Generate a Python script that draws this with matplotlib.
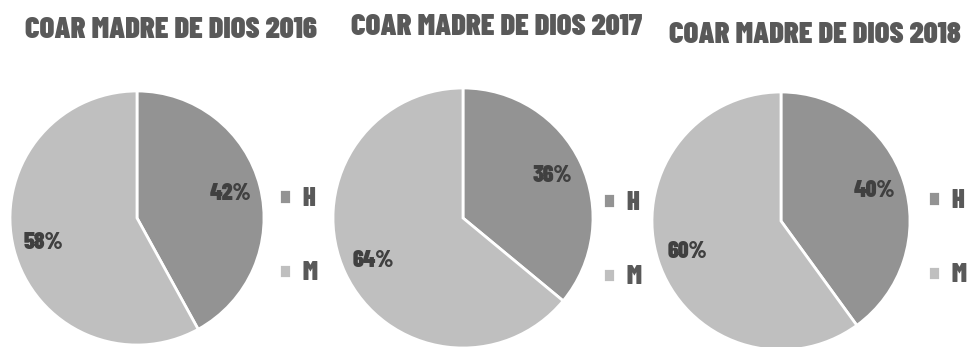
import matplotlib.pyplot as plt

# data
years = ["2016", "2017", "2018"]
labels = ["H", "M"]
pct_h = [42, 36, 40]
pct_m = [58, 64, 60]

colors = ["#939393", "#bfbfbf"]
title_color = "#595959"
label_color = "#404040"

W, H = 967, 347
fig = plt.figure(figsize=(W / 100, H / 100), dpi=100)

# pie centre / radius in pixels, title position, legend anchor
centers = [(137, 218, 127), (463, 218, 130), (781, 221, 129)]
title_pos = [(171, 30), (497, 27), (815, 35)]
legend_pos = [(279, 236), (603, 240), (928, 238)]

font = ["Barlow Condensed", "DejaVu Sans"]

for i, yr in enumerate(years):
    cx, cy, r = centers[i]
    ax = fig.add_axes([(cx - r) / W, (H - cy - r) / H, 2 * r / W, 2 * r / H])
    wedges, _, autotexts = ax.pie(
        [pct_h[i], pct_m[i]], colors=colors, startangle=90, counterclock=False,
        autopct="%d%%", pctdistance=0.76,
        wedgeprops=dict(edgecolor="white", linewidth=2),
        textprops=dict(color=label_color, fontsize=17, fontweight=900,
                       family=font))
    ax.set_xlim(-1, 1)
    ax.set_ylim(-1, 1)
    ax.set_aspect("auto")
    ax.axis("off")

    tx, ty = title_pos[i]
    fig.text(tx / W, 1 - ty / H, f"COAR MADRE DE DIOS {yr}", ha="center",
             va="center", fontsize=22, fontweight=900, color=title_color,
             family=font)

    lx, ly = legend_pos[i]
    leg = fig.legend(wedges, labels, loc="center left",
                     bbox_to_anchor=(lx / W, 1 - ly / H), frameon=False,
                     handlelength=0.45, handleheight=0.45, handletextpad=0.45,
                     labelspacing=1.9, borderpad=0, borderaxespad=0,
                     prop=dict(family=font, weight=900, size=19))
    for t in leg.get_texts():
        t.set_color(title_color)

fig.savefig("out.png", dpi=100)
